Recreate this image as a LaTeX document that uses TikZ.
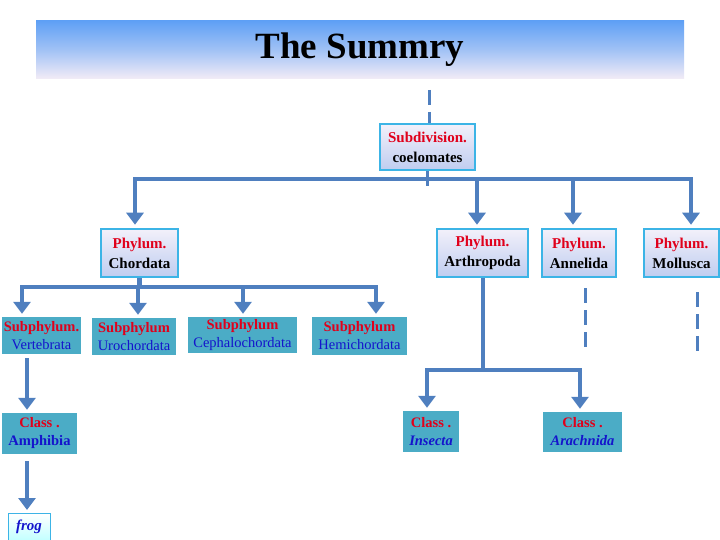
\documentclass[tikz,border=0pt]{standalone}
\usepackage{fontspec}
\setmainfont{Liberation Serif}
\usetikzlibrary{arrows.meta}
\definecolor{conn}{HTML}{4F7FBF}
\definecolor{cyb}{HTML}{3CB4E6}
\definecolor{teal}{HTML}{4BACC6}
\definecolor{lbl}{HTML}{E0001B}
\definecolor{bl}{HTML}{1414CC}
\definecolor{bannertop}{HTML}{5FA0F5}
\definecolor{bannerbot}{HTML}{F3ECF6}
\definecolor{phtop}{HTML}{F2F0FA}
\definecolor{phbot}{HTML}{BFCDF0}
\begin{document}
\begin{tikzpicture}[x=1pt,y=-1pt,
  phyl/.style={draw=cyb, line width=2.5pt, top color=phtop, bottom color=phbot, align=center, inner sep=0pt, font=\fontsize{15}{20}\selectfont\bfseries},
  subbox/.style={fill=teal, align=center, inner sep=0pt, font=\fontsize{14.5}{18}\selectfont},
  arr/.style={draw=conn, line width=4.5pt, -{Triangle[width=17pt,length=12pt]}, shorten >=3pt},
  bus/.style={draw=conn, line width=4.5pt},
  dashline/.style={draw=conn, line width=3pt, dash pattern=on 15pt off 7pt}
]
\useasboundingbox (0,0) rectangle (720,540);
\clip (0,0) rectangle (720,540);

% title banner
\node[minimum width=648pt, minimum height=58pt, inner sep=0pt, top color=bannertop, bottom color=bannerbot, middle color=bannertop!55!bannerbot, font=\fontsize{37}{40}\selectfont\bfseries] (title) at (360,50) {The Summry};

% boxes
\node[phyl, minimum width=95pt, minimum height=46pt] (sub) at (427.5,147) {\textcolor{lbl}{Subdivision.}\\coelomates};
\node[phyl, minimum width=77pt, minimum height=48pt] (chord) at (139.5,253) {\textcolor{lbl}{Phylum.}\\Chordata};
\node[phyl, minimum width=91pt, minimum height=48pt] (arth) at (482.5,253) {\textcolor{lbl}{Phylum.}\\Arthropoda};
\node[phyl, minimum width=74pt, minimum height=48pt] (anne) at (579,253) {\textcolor{lbl}{Phylum.}\\Annelida};
\node[phyl, minimum width=75pt, minimum height=48pt] (moll) at (681.5,253) {\textcolor{lbl}{Phylum.}\\Mollusca};

\node[subbox, minimum width=79pt, minimum height=37pt] (vert) at (41.5,335.5) {\textcolor{lbl}{\bfseries Subphylum.}\\\textcolor{bl}{Vertebrata}};
\node[subbox, minimum width=84pt, minimum height=37pt] (uro) at (134,336.5) {\textcolor{lbl}{\bfseries Subphylum}\\\textcolor{bl}{Urochordata}};
\node[subbox, minimum width=109pt, minimum height=36pt] (ceph) at (242.5,335) {\textcolor{lbl}{\bfseries Subphylum}\\\textcolor{bl}{Cephalochordata}};
\node[subbox, minimum width=95pt, minimum height=38pt] (hemi) at (359.5,336) {\textcolor{lbl}{\bfseries Subphylum}\\\textcolor{bl}{Hemichordata}};

\node[subbox, minimum width=75pt, minimum height=41pt] (amph) at (39.5,433.5) {\textcolor{lbl}{\bfseries Class .}\\\textcolor{bl}{\bfseries Amphibia}};
\node[subbox, minimum width=56pt, minimum height=41pt] (ins) at (431,431.5) {\textcolor{lbl}{\bfseries Class .}\\\textcolor{bl}{\bfseries\itshape Insecta}};
\node[subbox, minimum width=79pt, minimum height=40pt] (arach) at (582.5,432) {\textcolor{lbl}{\bfseries Class .}\\\textcolor{bl}{\bfseries\itshape Arachnida}};

\node[draw=cyb, line width=1pt, top color=white, bottom color=cyan!25!white, minimum width=42pt, minimum height=28pt, inner sep=0pt, font=\fontsize{15}{18}\selectfont\bfseries\itshape, text=bl, anchor=north] (frog) at (29,513) {\raisebox{4pt}{frog}};

% connectors
\coordinate (topdash) at (429,90);
\draw[dashline] (topdash) -- (topdash |- sub.north);
\draw[draw=conn, line width=3pt] (sub.south) -- ++(0,15);
\coordinate (bus) at (427.5,179);
\draw[arr] (bus) -| ([xshift=-4.5pt]chord.north);
\draw[arr] (bus) -| ([xshift=9.5pt]moll.north);
\draw[arr] (bus) -| ([xshift=-5.5pt]arth.north);
\draw[arr] (bus) -| ([xshift=-6pt]anne.north);

\coordinate (cbus) at (139.5,287);
\draw[bus] (chord.south) -- (cbus);
\draw[arr] (cbus) -| ([xshift=-19.5pt]vert.north);
\draw[arr] (cbus) -| ([xshift=4pt]uro.north);
\draw[arr] (cbus) -| ([xshift=0.5pt]ceph.north);
\draw[arr] (cbus) -| ([xshift=16.5pt]hemi.north);

\draw[arr, shorten <=4pt] ([xshift=-14.5pt]vert.south) -- ([xshift=-12.5pt]amph.north);
\draw[arr, shorten <=7pt] ([xshift=-12.5pt]amph.south) -- ([xshift=-2pt]frog.north);

\coordinate (abus) at (483,370);
\draw[bus] ([xshift=0.5pt]arth.south) -- (abus);
\draw[arr] (abus) -| ([xshift=-4pt]ins.north);
\draw[arr] (abus) -| ([xshift=-2.5pt]arach.north);

\coordinate (ad1) at (585,288);
\coordinate (ad2) at (585,348);
\draw[dashline] (ad1) -- (ad2);
\coordinate (md1) at (697,292);
\coordinate (md2) at (697,352);
\draw[dashline] (md1) -- (md2);
\end{tikzpicture}
\end{document}
